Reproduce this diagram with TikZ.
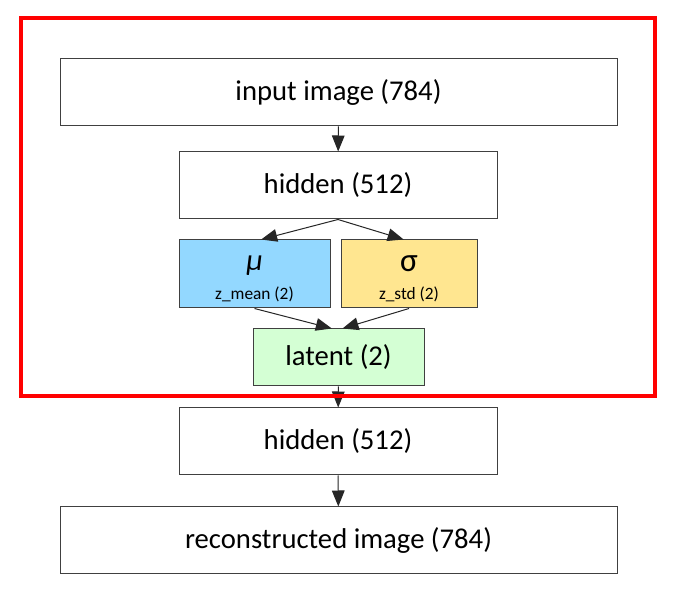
\documentclass[tikz,border=0pt]{standalone}
\usepackage{fontspec}
\setmainfont{Carlito}
\usetikzlibrary{arrows.meta,positioning}
\definecolor{meanblue}{HTML}{93D8FF}
\definecolor{stdyellow}{HTML}{FFE690}
\definecolor{latgreen}{HTML}{D4FFD4}
\definecolor{edgegray}{HTML}{404040}

\begin{document}
\begin{tikzpicture}[
  x=0.75pt, y=-0.75pt,
  box/.style={draw=edgegray, line width=0.75pt, align=center, font=\fontsize{21.5}{24}\selectfont,
              inner sep=0pt, fill=#1},
  box/.default=white,
  arr/.style={-{Triangle[length=12pt,width=9.5pt]}, line width=0.75pt, draw=black!85}]
\useasboundingbox (0,0) rectangle (683,595);
\fill[white] (0,0) rectangle (683,595);
\node[box, minimum width=557*0.75pt, minimum height=67*0.75pt] (in) at (338.5,92.5) {input image (784)};
\node[box, minimum width=318*0.75pt, minimum height=67*0.75pt] (h1) at (338,185.5) {hidden (512)};
\node[box=meanblue, minimum width=151*0.75pt, minimum height=68*0.75pt] (mu) at (254.5,274) {};
\node[box=stdyellow, minimum width=136*0.75pt, minimum height=68*0.75pt] (sd) at (409,274) {};
\node[font=\itshape\fontsize{23}{25}\selectfont] (mus) at (254.5,266) {μ};
\node[font=\fontsize{13}{15}\selectfont] (mul) at (254.5,294) {z\_mean (2)};
\node[font=\fontsize{25}{27}\selectfont] (sds) at (409,264) {σ};
\node[font=\fontsize{13}{15}\selectfont] (sdl) at (409,294) {z\_std (2)};
\node[box=latgreen, minimum width=171*0.75pt, minimum height=57*0.75pt] (lat) at (338.5,357.5) {latent (2)};
\node[box, minimum width=318*0.75pt, minimum height=67*0.75pt] (h2) at (338,441.5) {hidden (512)};
\node[box, minimum width=557*0.75pt, minimum height=67*0.75pt] (out) at (338.5,540.5) {reconstructed image (784)};
% connectors
\draw[arr] (in) -- (h1);
\draw[arr] (h1.south) -- ([xshift=5]mu.north);
\draw[arr] (h1.south) -- ([xshift=-4]sd.north);
\draw[arr] ([xshift=0]mu.south) -- ([xshift=-5]lat.north);
\draw[arr] (sd.south) -- ([xshift=3]lat.north);
\draw[arr] (lat) -- (h2);
\draw[arr] (h2) -- (out);
% encoder frame
\node[draw=red, line width=3pt, minimum width=634*0.75pt, minimum height=378*0.75pt, inner sep=0pt] (enc) at (338,207) {};
\end{tikzpicture}
\end{document}
